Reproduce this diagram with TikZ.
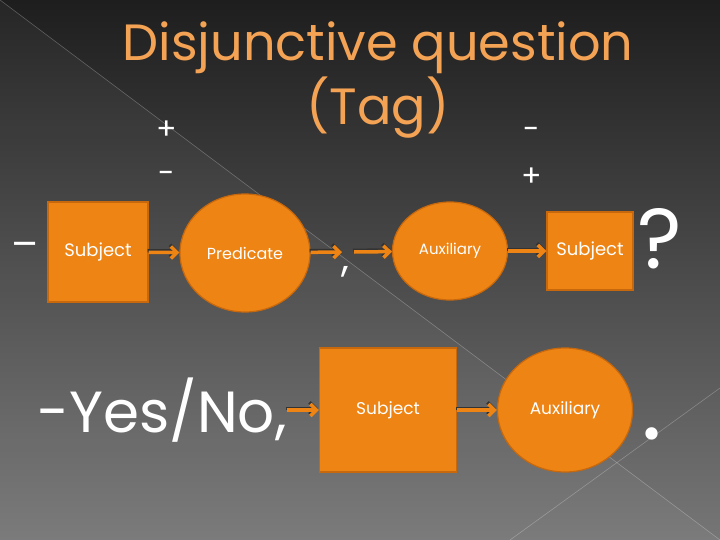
\documentclass[tikz,border=0pt]{standalone}
\usepackage{fontspec}
\setmainfont{Poppins}
\usetikzlibrary{arrows.meta,shapes.geometric}
\definecolor{slideorange}{HTML}{EE8414}
\definecolor{edgeorange}{HTML}{C8680C}
\definecolor{titleorange}{HTML}{F4A254}
\definecolor{bgtop}{HTML}{1E1E1E}
\definecolor{bgmid}{HTML}{303030}
\definecolor{bgbottom}{HTML}{767676}
\begin{document}
\begin{tikzpicture}[x=1pt, y=-1pt, font=\fontsize{17}{19}\selectfont,
  box/.style={draw=edgeorange, line width=1.2pt, fill=slideorange, text=white},
  blob/.style={ellipse, draw=edgeorange, line width=1.2pt, fill=slideorange, text=white, inner sep=0pt},
  flow/.style={draw=slideorange, line width=3.5pt, -{Straight Barb[length=6pt,width=12pt]},
    preaction={draw=black!80, line width=3.5pt, -{Straight Barb[length=6pt,width=12pt]},
      transform canvas={xshift=-1pt, yshift=1.6pt}}},
  sign/.style={text=white, inner sep=0pt, font=\fontsize{30}{30}\selectfont}]
  % Background
  \useasboundingbox (0,0) rectangle (720,540);
  \shade[top color=bgtop, middle color=bgmid, bottom color=bgbottom] (0,0) rectangle (720,540);
  \fill[white, opacity=0.04] (0,0) -- (720,540) -- (0,540) -- cycle;
  \draw[white, opacity=0.25, line width=0.6pt] (0,0) -- (720,540);
  \draw[white, opacity=0.25, line width=0.6pt] (720,388) -- (510,540);
  % Title
  \node[text=titleorange, align=center, font=\fontsize{51}{64}\selectfont] (head) at (378,80)
    {Disjunctive question\\(Tag)};
  % Signs
  \node[sign] (plusA) at (167,130) {+};
  \node[sign] (minusA) at (167,177) {-};
  \node[sign] (minusB) at (532,133) {-};
  \node[sign] (plusB) at (532,177) {+};
  \node[sign, font=\fontsize{40}{40}\selectfont] (lead) at (25,250) {–};
  % Tag row
  \node[box, minimum width=100pt, minimum height=100pt, font=\fontsize{18}{20}\selectfont] (subj) at (98,252) {Subject};
  \node[blob, minimum width=130pt, minimum height=118pt, font=\fontsize{16}{18}\selectfont] (pred) at (245,253) {Predicate};
  \coordinate (predend) at (342,252);
  \node[sign, font=\fontsize{40}{40}\selectfont] (comma) at (345,272) {,};
  \coordinate (tagstart) at (354,252);
  \node[blob, minimum width=115pt, minimum height=98pt, font=\fontsize{15}{17}\selectfont] (aux) at (450,251) {Auxiliary};
  \node[box, minimum width=86pt, minimum height=78pt, font=\fontsize{18}{20}\selectfont] (tagsubj) at (590,251) {Subject};
  \node[sign, font=\fontsize{85}{85}\selectfont] (qmark) at (660,239) {?};
  \draw[flow] (subj) -- (pred);
  \draw[flow] (pred) -- (predend);
  \draw[flow] (tagstart) -- (aux);
  \draw[flow] (aux) -- (tagsubj);
  % Answer row
  \node[sign, font=\fontsize{58}{58}\selectfont] (yesno) at (162,410) {-Yes/No,};
  \node[box, minimum width=137pt, minimum height=124pt] (ansubj) at (388,410) {Subject};
  \node[blob, minimum width=135pt, minimum height=124pt] (anaux) at (565,410) {Auxiliary};
  \node[sign, font=\fontsize{100}{100}\selectfont] (stop) at (652,434) {.};
  \draw[flow] (yesno) -- (ansubj);
  \draw[flow] (ansubj) -- (anaux);
\end{tikzpicture}
\end{document}
